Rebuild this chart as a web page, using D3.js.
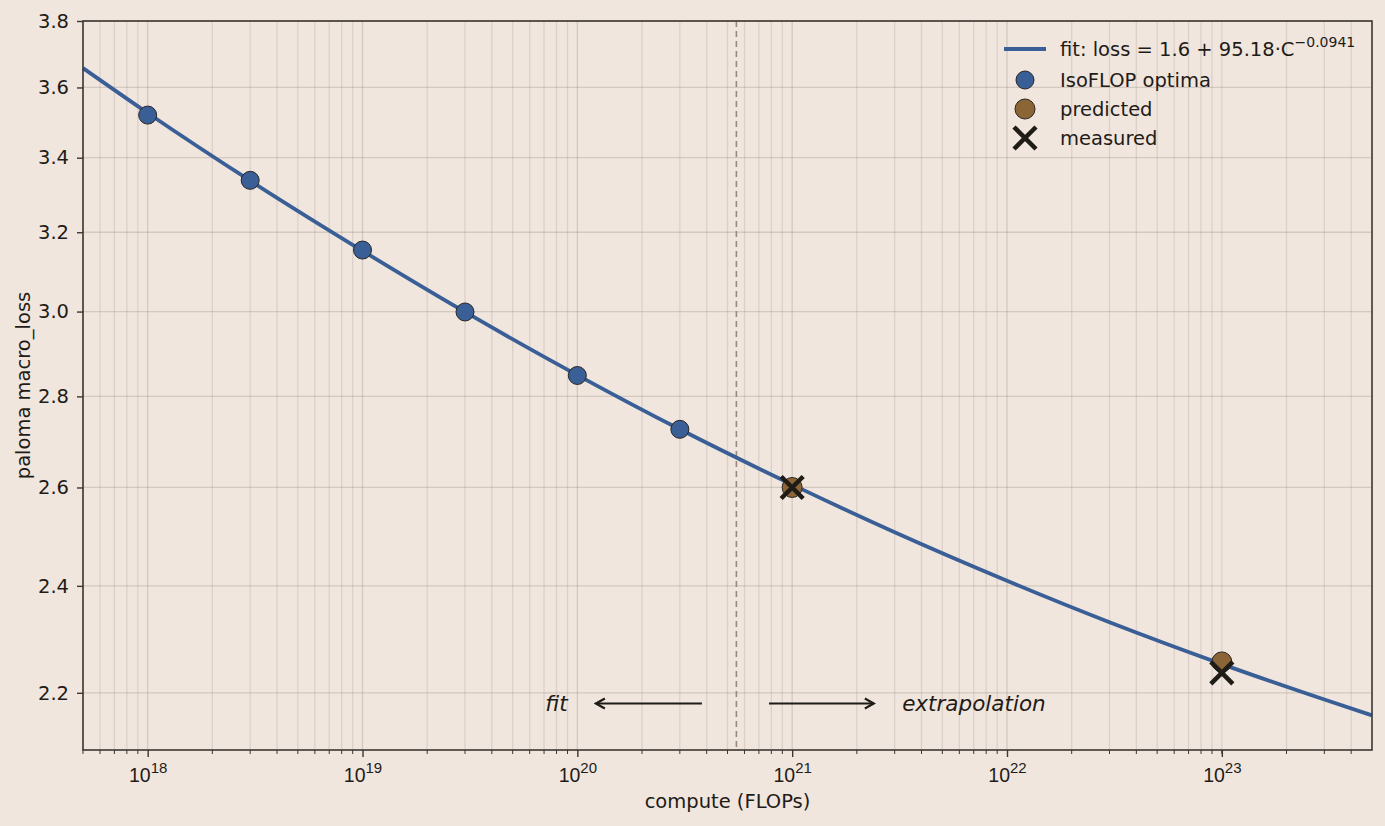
<!DOCTYPE html>
<html>
<head>
<meta charset="utf-8">
<script src="https://cdn.jsdelivr.net/npm/d3@7"></script>
<style>
  body { margin: 0; background: #f0e6de; }
  svg { display: block; font-family: "DejaVu Sans", sans-serif; }
</style>
</head>
<body>
<div id="chart"></div>
<script>
// IsoFLOP optima (compute, loss)
const optimaC = [1e18, 3e18, 1e19, 3e19, 1e20, 3e20];
const optimaLoss = [3.52, 3.338, 3.154, 2.999, 2.848, 2.726];
// predicted / measured points
const predC = [1e21, 1e23];
const predLoss = [2.600, 2.256];
const measLoss = [2.600, 2.236];
// fit curve
const fitC = [5e17, 1e18, 3e18, 1e19, 3e19, 1e20, 3e20, 1e21, 3e21, 1e22, 3e22, 1e23, 3e23, 5e23];
const fitLoss = [3.657, 3.526, 3.337, 3.152, 2.999, 2.849, 2.726, 2.606, 2.507, 2.410, 2.330, 2.252, 2.188, 2.160];
const yTicks = [2.2, 2.4, 2.6, 2.8, 3.0, 3.2, 3.4, 3.6, 3.8];
const xTicks = [1e18, 1e19, 1e20, 1e21, 1e22, 1e23];
const splitC = 5.5e20;

const width = 1385, height = 826;
const padding = {top: 21, right: 13, bottom: 76, left: 83};
const bg = '#f0e6de', ink = '#1f1b17', spine = '#3d3631';
const blue = '#3a5e96', brown = '#8b6535';
const fs = 19.5, sup = 15;

const x = d3.scaleLog()
    .domain([5e17, 5e23])
    .range([padding.left, width - padding.right]);
const y = d3.scaleLog()
    .domain([2.1, 3.8])
    .range([height - padding.bottom, padding.top]);

const svg = d3.select('#chart').append('svg')
    .attr('width', width)
    .attr('height', height);

svg.append('rect').attr('width', width).attr('height', height).attr('fill', bg);

// minor x ticks (1..9 of every decade)
const minorX = [];
for (let e = 17; e <= 23; e++) {
    for (let m = 1; m <= 9; m++) {
        const v = m * Math.pow(10, e);
        if (v >= 5e17 && v <= 5e23) minorX.push(v);
    }
}

// grid
svg.append('g').selectAll('line')
    .data(minorX)
    .join('line')
    .attr('x1', d => x(d)).attr('x2', d => x(d))
    .attr('y1', padding.top).attr('y2', height - padding.bottom)
    .attr('stroke', '#7d7268')
    .attr('stroke-opacity', d => xTicks.indexOf(d) >= 0 ? 0.25 : 0.18)
    .attr('stroke-width', 1.3);
svg.append('g').selectAll('line')
    .data(yTicks)
    .join('line')
    .attr('x1', padding.left).attr('x2', width - padding.right)
    .attr('y1', d => y(d)).attr('y2', d => y(d))
    .attr('stroke', '#7d7268')
    .attr('stroke-opacity', 0.25)
    .attr('stroke-width', 1.3);

// split line
svg.append('line')
    .attr('x1', x(splitC)).attr('x2', x(splitC))
    .attr('y1', padding.top).attr('y2', height - padding.bottom)
    .attr('stroke', '#978a80')
    .attr('stroke-width', 1.6)
    .attr('stroke-dasharray', '6,4');

// fit line
const line = d3.line()
    .curve(d3.curveMonotoneX)
    .x((d, i) => x(fitC[i]))
    .y(d => y(d));
svg.append('path')
    .datum(fitLoss)
    .attr('fill', 'none')
    .attr('stroke', blue)
    .attr('stroke-width', 3.8)
    .attr('d', line);

// IsoFLOP optima
svg.append('g').selectAll('circle')
    .data(optimaLoss)
    .join('circle')
    .attr('cx', (d, i) => x(optimaC[i]))
    .attr('cy', d => y(d))
    .attr('r', 9)
    .attr('fill', blue)
    .attr('stroke', '#2a2622')
    .attr('stroke-width', 1);

// predicted
svg.append('g').selectAll('circle')
    .data(predLoss)
    .join('circle')
    .attr('cx', (d, i) => x(predC[i]))
    .attr('cy', d => y(d))
    .attr('r', 10)
    .attr('fill', brown)
    .attr('stroke', '#2a2622')
    .attr('stroke-width', 1);

// measured
function cross(g, cx, cy, s) {
    g.append('path')
        .attr('d', `M${cx - s},${cy - s}L${cx + s},${cy + s}M${cx - s},${cy + s}L${cx + s},${cy - s}`)
        .attr('stroke', ink)
        .attr('stroke-width', 4.5)
        .attr('fill', 'none');
}
const measG = svg.append('g');
measLoss.forEach((d, i) => cross(measG, x(predC[i]), y(d), 11));

// annotations
const annY = 2.181;
svg.append('defs').append('marker')
    .attr('id', 'arr')
    .attr('viewBox', '0 0 14 14')
    .attr('refX', 12).attr('refY', 7)
    .attr('markerWidth', 14).attr('markerHeight', 14)
    .attr('markerUnits', 'userSpaceOnUse')
    .attr('orient', 'auto')
    .append('path')
    .attr('d', 'M3,2L12,7L3,12')
    .attr('fill', 'none')
    .attr('stroke', ink)
    .attr('stroke-width', 2.2);
const arrows = [[3.8e20, 1.22e20], [7.8e20, 2.4e21]];
svg.append('g').selectAll('line')
    .data(arrows)
    .join('line')
    .attr('x1', d => x(d[0])).attr('x2', d => x(d[1]))
    .attr('y1', y(annY)).attr('y2', y(annY))
    .attr('stroke', ink)
    .attr('stroke-width', 2.2)
    .attr('marker-end', 'url(#arr)');
svg.append('text')
    .attr('x', x(8e19)).attr('y', y(annY))
    .attr('dy', '0.35em')
    .attr('text-anchor', 'middle')
    .attr('font-style', 'italic')
    .attr('font-size', 21.5)
    .attr('fill', ink)
    .text('fit');
svg.append('text')
    .attr('x', x(3.25e21)).attr('y', y(annY))
    .attr('dy', '0.35em')
    .attr('font-style', 'italic')
    .attr('font-size', 21.5)
    .attr('fill', ink)
    .text('extrapolation');

// axes
const xAxis = d3.axisBottom(x).tickValues(xTicks).tickSize(7).tickPadding(8).tickFormat('');
const xg = svg.append('g')
    .attr('transform', `translate(0,${height - padding.bottom})`)
    .call(xAxis);
xg.select('.domain').remove();
xg.selectAll('.tick line').attr('stroke', spine).attr('stroke-width', 1.4);
xg.selectAll('.tick').append('text')
    .attr('y', 32)
    .attr('fill', ink)
    .attr('font-size', fs)
    .attr('text-anchor', 'middle')
    .each(function (d) {
        const t = d3.select(this);
        t.append('tspan').text('10');
        t.append('tspan')
            .attr('font-size', sup)
            .attr('dy', -9)
            .text(Math.round(Math.log10(d)));
    });
svg.append('g')
    .attr('transform', `translate(0,${height - padding.bottom})`)
    .selectAll('line')
    .data(minorX.filter(d => xTicks.indexOf(d) < 0))
    .join('line')
    .attr('x1', d => x(d)).attr('x2', d => x(d))
    .attr('y1', 0).attr('y2', 4)
    .attr('stroke', spine)
    .attr('stroke-width', 1);

const yAxis = d3.axisLeft(y).tickValues(yTicks).tickSize(6).tickPadding(8).tickFormat(d3.format('.1f'));
const yg = svg.append('g')
    .attr('transform', `translate(${padding.left},0)`)
    .call(yAxis);
yg.select('.domain').remove();
yg.selectAll('.tick line').attr('stroke', spine).attr('stroke-width', 1.4);
yg.selectAll('.tick text')
    .attr('fill', ink)
    .attr('font-size', fs)
    .attr('font-family', '"DejaVu Sans", sans-serif');

// frame
svg.append('rect')
    .attr('x', padding.left).attr('y', padding.top)
    .attr('width', width - padding.left - padding.right)
    .attr('height', height - padding.top - padding.bottom)
    .attr('fill', 'none')
    .attr('stroke', spine)
    .attr('stroke-width', 1.6);

// axis labels
svg.append('text')
    .attr('x', (padding.left + width - padding.right) / 2)
    .attr('y', 808)
    .attr('text-anchor', 'middle')
    .attr('font-size', fs)
    .attr('fill', ink)
    .text('compute (FLOPs)');
svg.append('text')
    .attr('transform', `translate(30,${(padding.top + height - padding.bottom) / 2}) rotate(-90)`)
    .attr('text-anchor', 'middle')
    .attr('font-size', fs)
    .attr('fill', ink)
    .text('paloma macro_loss');

// legend
const lg = svg.append('g').attr('transform', 'translate(1004,49)');
lg.append('line')
    .attr('x1', 0).attr('x2', 42).attr('y1', 0).attr('y2', 0)
    .attr('stroke', blue).attr('stroke-width', 3.8);
const fitLabel = lg.append('text')
    .attr('x', 56).attr('y', 0).attr('dy', '0.35em')
    .attr('font-size', fs).attr('fill', ink);
fitLabel.append('tspan').text('fit: loss = 1.6 + 95.18·C');
fitLabel.append('tspan').attr('font-size', 14).attr('dy', -9).text('−0.0941');
lg.append('circle').attr('cx', 21).attr('cy', 31).attr('r', 9)
    .attr('fill', blue).attr('stroke', '#2a2622').attr('stroke-width', 1);
lg.append('text').attr('x', 56).attr('y', 31).attr('dy', '0.35em')
    .attr('font-size', fs).attr('fill', ink).text('IsoFLOP optima');
lg.append('circle').attr('cx', 21).attr('cy', 60).attr('r', 10)
    .attr('fill', brown).attr('stroke', '#2a2622').attr('stroke-width', 1);
lg.append('text').attr('x', 56).attr('y', 60).attr('dy', '0.35em')
    .attr('font-size', fs).attr('fill', ink).text('predicted');
cross(lg, 21, 89, 11);
lg.append('text').attr('x', 56).attr('y', 89).attr('dy', '0.35em')
    .attr('font-size', fs).attr('fill', ink).text('measured');
</script>
</body>
</html>
